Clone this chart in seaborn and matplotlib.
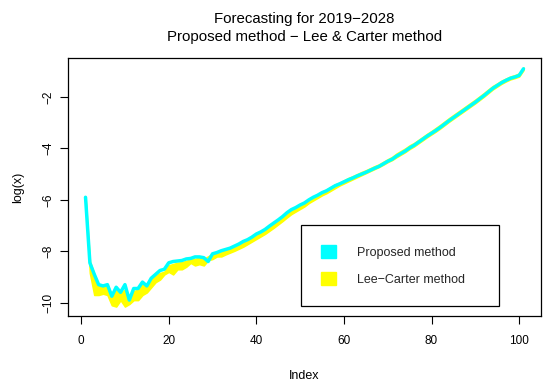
import pandas as pd
import matplotlib
matplotlib.use("Agg")
import matplotlib.pyplot as plt
import seaborn as sns
from matplotlib.patches import Patch

sns.set_theme(style="white")
plt.rcParams['font.family'] = ['Liberation Sans', 'DejaVu Sans']

# age index 1..101
index = list(range(1, 102))

# Proposed method (cyan)
proposed = [
    -5.9, -8.45, -8.9, -9.3, -9.35, -9.3, -9.75, -9.4, -9.6, -9.3,
    -9.9, -9.45, -9.45, -9.2, -9.35, -9.05, -8.9, -8.75, -8.7, -8.45,
    -8.4, -8.38, -8.36, -8.3, -8.28, -8.22, -8.22, -8.25, -8.4, -8.1,
    -8.05, -7.98, -7.93, -7.88, -7.8, -7.72, -7.62, -7.55, -7.45, -7.33,
    -7.25, -7.15, -7.02, -6.9, -6.78, -6.65, -6.5, -6.38, -6.3, -6.2,
    -6.12, -6.0, -5.9, -5.82, -5.72, -5.65, -5.55, -5.45, -5.38, -5.3,
    -5.22, -5.15, -5.07, -5.0, -4.93, -4.85, -4.77, -4.7, -4.6, -4.5,
    -4.42, -4.3, -4.2, -4.1, -3.98, -3.88, -3.76, -3.64, -3.52, -3.41,
    -3.3, -3.18, -3.05, -2.92, -2.8, -2.68, -2.56, -2.44, -2.32, -2.2,
    -2.07, -1.94, -1.8, -1.66, -1.55, -1.44, -1.35, -1.27, -1.22, -1.16,
    -0.9,
]

# Lee-Carter method (yellow) band, lower and upper edges
lc_low = [
    -6.0, -8.85, -9.7, -9.7, -9.65, -9.7, -10.1, -10.15, -9.9, -10.15,
    -10.05, -9.9, -9.9, -9.7, -9.6, -9.4, -9.2, -9.1, -8.9, -8.8,
    -8.9, -8.7, -8.7, -8.6, -8.45, -8.55, -8.5, -8.55, -8.35, -8.3,
    -8.2, -8.2, -8.12, -8.05, -7.98, -7.9, -7.82, -7.72, -7.62, -7.52,
    -7.42, -7.32, -7.2, -7.08, -6.95, -6.82, -6.68, -6.55, -6.45, -6.35,
    -6.25, -6.12, -6.02, -5.92, -5.82, -5.74, -5.64, -5.54, -5.44, -5.36,
    -5.28, -5.2, -5.12, -5.04, -4.96, -4.88, -4.8, -4.72, -4.63, -4.53,
    -4.45, -4.34, -4.24, -4.14, -4.02, -3.92, -3.8, -3.68, -3.56, -3.45,
    -3.34, -3.22, -3.09, -2.96, -2.84, -2.72, -2.6, -2.48, -2.36, -2.24,
    -2.11, -1.98, -1.84, -1.7, -1.59, -1.48, -1.39, -1.31, -1.26, -1.2,
    -0.95,
]
lc_high = [
    -5.9, -8.4, -8.9, -9.3, -9.35, -9.3, -9.7, -9.5, -9.6, -9.5,
    -9.8, -9.55, -9.5, -9.3, -9.35, -9.1, -8.95, -8.85, -8.8, -8.55,
    -8.5, -8.45, -8.42, -8.38, -8.3, -8.3, -8.25, -8.3, -8.2, -8.1,
    -8.05, -8.0, -7.95, -7.9, -7.82, -7.74, -7.65, -7.57, -7.47, -7.36,
    -7.27, -7.17, -7.05, -6.93, -6.8, -6.67, -6.53, -6.4, -6.31, -6.2,
    -6.1, -5.98, -5.88, -5.78, -5.68, -5.6, -5.5, -5.4, -5.33, -5.24,
    -5.15, -5.08, -5.0, -4.92, -4.85, -4.77, -4.69, -4.62, -4.52, -4.42,
    -4.33, -4.2, -4.1, -4.0, -3.88, -3.79, -3.67, -3.55, -3.43, -3.32,
    -3.2, -3.08, -2.95, -2.82, -2.7, -2.58, -2.46, -2.34, -2.22, -2.1,
    -1.97, -1.84, -1.7, -1.57, -1.47, -1.36, -1.28, -1.2, -1.15, -1.08,
    -0.85,
]

df = pd.DataFrame({"Index": index, "proposed": proposed})

fig = plt.figure(figsize=(5.5, 3.88), dpi=100)
ax = fig.add_axes([68 / 550, 1 - 316 / 388, 473 / 550, 258 / 388])

ax.fill_between(index, lc_low, lc_high, color="yellow", lw=1.2, edgecolor="yellow")
sns.lineplot(data=df, x="Index", y="proposed", color="cyan", lw=2.5, ax=ax)

ax.set_xlim(-3, 105)
ax.set_ylim(-10.52, -0.48)
ax.set_xticks([0, 20, 40, 60, 80, 100])
ax.set_yticks([-10, -8, -6, -4, -2])
ax.tick_params(axis="both", direction="out", length=6, width=0.8, labelsize=8.5,
               bottom=True, left=True, color="black", labelcolor="black")
ax.tick_params(axis="x", pad=8)
ax.tick_params(axis="y", pad=4)
for lab in ax.get_yticklabels():
    lab.set_rotation(90)
    lab.set_va("center")
for s in ax.spines.values():
    s.set_color("black")
    s.set_linewidth(0.9)

ax.set_xlabel("Index", fontsize=9, labelpad=16, color="black")
ax.set_ylabel("log(x)", fontsize=9, labelpad=13, color="black")
ax.set_title("Forecasting for 2019\u22122028\nProposed method \u2212 Lee & Carter method",
             fontsize=10.8, pad=12, linespacing=1.4, color="black")

handles = [Patch(facecolor="cyan", edgecolor="cyan"),
           Patch(facecolor="yellow", edgecolor="yellow")]
leg = ax.legend(handles, ["Proposed method", "Lee\u2212Carter method"],
                loc="lower left", bbox_to_anchor=(0.492, 0.039, 0.419, 0.3),
                mode="expand", fontsize=9, frameon=True, fancybox=False,
                framealpha=1, edgecolor="black", handlelength=1.2,
                handleheight=1.2, handletextpad=1.7, borderpad=1.6,
                labelspacing=1.1, borderaxespad=0)
leg.get_frame().set_linewidth(0.9)

fig.savefig("out.png", dpi=100)
